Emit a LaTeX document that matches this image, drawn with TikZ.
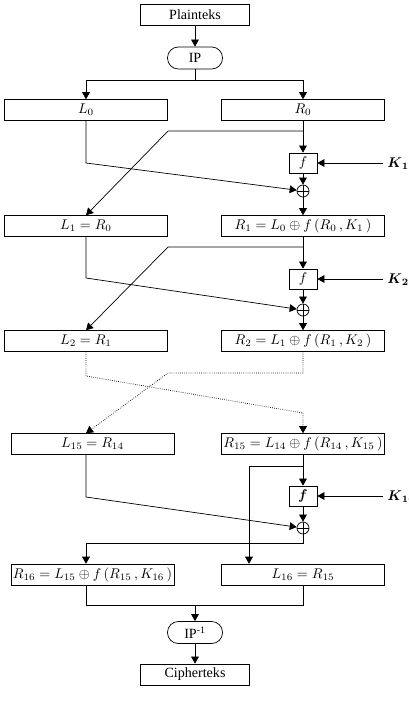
\documentclass[tikz,border=0pt]{standalone}
\usepackage{amsmath}
\usepackage{fontspec}
\setmainfont{Liberation Serif}
\usetikzlibrary{arrows.meta,calc}
\tikzset{
  blok/.style={draw, minimum width=4.075cm, minimum height=0.52cm, inner sep=0pt},
  ujung/.style={draw, minimum width=2.725cm, minimum height=0.525cm, inner sep=0pt},
  perm/.style={draw, rounded corners=0.27cm, minimum width=1.375cm, minimum height=0.55cm, inner sep=0pt},
  fungsi/.style={draw, minimum width=0.7cm, minimum height=0.5cm, inner sep=0pt},
  xor/.style={draw, circle, minimum size=0.3cm, inner sep=0pt,
    path picture={\draw (path picture bounding box.north) -- (path picture bounding box.south)
      (path picture bounding box.west) -- (path picture bounding box.east);}},
  kunci/.style={anchor=west, inner sep=0pt},
  panah/.style={-{Triangle[length=5pt,width=5.5pt]}},
  titik/.style={densely dotted},
}

\begin{document}
\begin{tikzpicture}[x=0.025cm,y=-0.025cm, line width=0.5pt]
		\useasboundingbox (0,0) rectangle (408,702);
		%%%%% awal %%%%%
		\node[ujung] (plain) at (195,15) {Plainteks};
		\node[perm] (ip) at (195,58) {IP};
		\draw[panah] (plain) -- (ip);
		
		\coordinate (s0) at (195,80);
		\node[blok] (L0) at (86,110) {$L_0$};
		\node[blok] (R0) at (303,110) {$R_0$};
		\draw (ip) -- (s0);
		\draw[panah] (s0) -| (L0);
		\draw[panah] (s0) -| (R0);
		
		%%%%% putaran 1 %%%%%
		\node[fungsi] (f1) at (303,163) {$f$};
		\node[xor] (xor1) at (303,191) {};
		\node[kunci] (K1) at (387,164) {$\boldsymbol{K}_{\boldsymbol{1}}$};
		\node[blok] (L1) at (86,226) {$L_1 = R_0$};
		\node[blok] (R1) at (303,226) {$R_1 = L_0 \oplus f\,(R_0\,, K_1\,)$};
		
		\coordinate (t1) at (303,131);
		\coordinate (c1) at (168,131);
		\coordinate (b1) at (86,163);
		\draw[panah] (R0) -- (f1);
		\draw[panah] (t1) -- (c1) -- (L1.north);
		\draw[panah] (L0) -- (b1) -- (xor1);
		\draw[panah] ([xshift=-0.1cm]K1.west |- f1) -- (f1);
		\draw[panah] (f1) -- (xor1);
		\draw[panah] (xor1) -- (R1);
		
		%%%%% putaran 2 %%%%%
		\node[fungsi] (f2) at (303,279) {$f$};
		\node[xor] (xor2) at (303,310) {};
		\node[kunci] (K2) at (387,280) {$\boldsymbol{K}_{\boldsymbol{2}}$};
		\node[blok] (L2) at (86,341) {$L_2 = R_1$};
		\node[blok] (R2) at (303,341) {$R_2 = L_1 \oplus f\,(R_1\,, K_2\,)$};
		
		\coordinate (t2) at (303,247);
		\coordinate (c2) at (168,247);
		\coordinate (b2) at (86,278);
		\draw[panah] (R1) -- (f2);
		\draw[panah] (t2) -- (c2) -- (L2.north);
		\draw[panah] (L1) -- (b2) -- (xor2);
		\draw[panah] ([xshift=-0.1cm]K2.west |- f2) -- (f2);
		\draw[panah] (f2) -- (xor2);
		\draw[panah] (xor2) -- (R2);
		
		%%%%% putaran 3..14 (titik) %%%%%
		\node[blok] (L15) at (92.5,444) {$L_{15} = R_{14}$};
		\node[blok] (R15) at (303,444) {$R_{15} = L_{14} \oplus f\,(R_{14}\,, K_{15}\,)$};
		
		\coordinate (d1) at (86,376);
		\coordinate (d2) at (303,413);
		\coordinate (d3) at (303,373);
		\coordinate (d4) at (168,373);
		\draw[titik,panah] (L2) -- (d1) -- (d2) -- (R15);
		\draw[titik,panah] (R2) -- (d3) -- (d4) -- (L15.north -| d1);
		
		%%%%% putaran 16 %%%%%
		\node[fungsi] (f3) at (303,496) {$\boldsymbol{f}$};
		\node[xor] (xor3) at (303,528) {};
		\node[kunci] (K16) at (387,497) {$\boldsymbol{K}_{\boldsymbol{16}}$};
		\node[blok] (R16) at (92.5,574.5) {$R_{16} = L_{15} \oplus f\,(R_{15}\,, K_{16}\,)$};
		\node[blok] (L16) at (303,574.5) {$L_{16} = R_{15}$};
		
		\coordinate (t16) at (303,466);
		\coordinate (c16) at (249,466);
		\coordinate (b15) at (86,497);
		\coordinate (x16) at (303,543);
		\coordinate (y16) at (86,543);
		\draw[panah] (R15) -- (f3);
		\draw[panah] (t16) -- (c16) -- (L16.north -| c16);
		\draw[panah] (L15.south -| b15) -- (b15) -- (xor3);
		\draw[panah] ([xshift=-0.1cm]K16.west |- f3) -- (f3);
		\draw[panah] (f3) -- (xor3);
		\draw[panah] (xor3) -- (x16) -- (y16) -- (R16.north -| y16);
		
		%%%%% akhir %%%%%
		\node[perm] (ipinv) at (195,632.5) {IP\textsuperscript{-1}};
		\node[ujung] (cipher) at (195,674.5) {Cipherteks};
		
		\coordinate (g1) at (86,605);
		\coordinate (g2) at (303,605);
		\coordinate (g0) at (195,605);
		\draw (R16.south -| g1) -- (g1) -- (g2) -- (L16);
		\draw[panah] (g0) -- (ipinv);
		\draw[panah] (ipinv) -- (cipher);
		%%%%% selesai %%%%%
\end{tikzpicture}
\end{document}
